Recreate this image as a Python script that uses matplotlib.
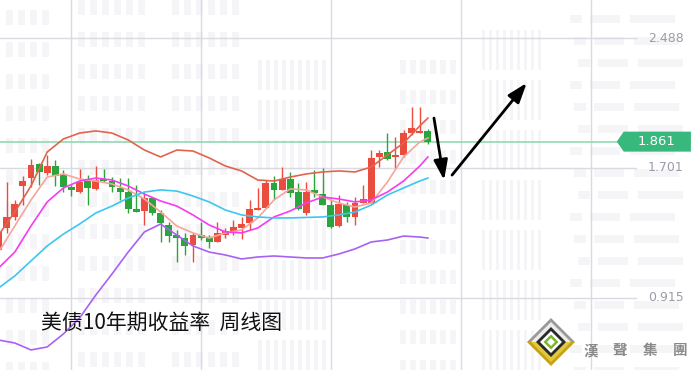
import matplotlib
matplotlib.use("Agg")
import matplotlib.pyplot as plt
from matplotlib.patches import Polygon, Rectangle
from matplotlib.transforms import blended_transform_factory
import numpy as np

plt.rcParams['font.family'] = ['Noto Sans CJK SC', 'DejaVu Sans']

# weekly candles, 10y treasury yield (%), oldest first
opens = [1.203, 1.337, 1.404, 1.592, 1.640, 1.725, 1.671, 1.713, 1.659, 1.586,
         1.555, 1.622, 1.574, 1.634, 1.622, 1.580, 1.555, 1.452, 1.440, 1.519,
         1.428, 1.355, 1.294, 1.276, 1.234, 1.294, 1.276, 1.252, 1.294, 1.319,
         1.337, 1.367, 1.446, 1.458, 1.610, 1.568, 1.634, 1.555, 1.428, 1.568,
         1.543, 1.476, 1.349, 1.476, 1.404, 1.489, 1.489, 1.768, 1.798, 1.768,
         1.780, 1.913, 1.913, 1.925]
highs = [1.325, 1.616, 1.507, 1.652, 1.756, 1.731, 1.780, 1.750, 1.689, 1.598,
         1.695, 1.659, 1.713, 1.695, 1.646, 1.640, 1.640, 1.598, 1.549, 1.525,
         1.446, 1.373, 1.325, 1.307, 1.307, 1.373, 1.294, 1.373, 1.337, 1.385,
         1.404, 1.507, 1.580, 1.628, 1.652, 1.707, 1.677, 1.610, 1.616, 1.689,
         1.701, 1.507, 1.537, 1.495, 1.525, 1.598, 1.810, 1.810, 1.913, 1.889,
         1.932, 2.071, 2.071, 1.938]
lows = [1.179, 1.307, 1.385, 1.476, 1.586, 1.598, 1.659, 1.592, 1.555, 1.531,
        1.549, 1.476, 1.568, 1.616, 1.555, 1.507, 1.428, 1.434, 1.355, 1.416,
        1.252, 1.252, 1.131, 1.173, 1.131, 1.264, 1.216, 1.252, 1.276, 1.294,
        1.270, 1.325, 1.446, 1.458, 1.513, 1.568, 1.525, 1.446, 1.416, 1.525,
        1.476, 1.337, 1.343, 1.373, 1.355, 1.489, 1.489, 1.707, 1.750, 1.701,
        1.768, 1.901, 1.913, 1.847]
closes = [1.313, 1.404, 1.483, 1.622, 1.719, 1.677, 1.713, 1.652, 1.586, 1.568,
          1.616, 1.580, 1.628, 1.622, 1.586, 1.555, 1.452, 1.434, 1.519, 1.428,
          1.367, 1.288, 1.276, 1.228, 1.294, 1.276, 1.252, 1.307, 1.319, 1.343,
          1.361, 1.452, 1.458, 1.610, 1.568, 1.634, 1.549, 1.452, 1.555, 1.549,
          1.476, 1.343, 1.483, 1.404, 1.489, 1.513, 1.762, 1.792, 1.756, 1.780,
          1.913, 1.944, 1.925, 1.861]

# indicator lines, read every second week
line_idx = list(range(0, 53, 2)) + [53]
boll_up = [1.294, 1.434, 1.592, 1.798, 1.877, 1.913, 1.926, 1.913, 1.871, 1.810,
           1.768, 1.810, 1.804, 1.762, 1.713, 1.683, 1.628, 1.622, 1.646, 1.665,
           1.677, 1.683, 1.677, 1.707, 1.780, 1.853, 1.956, 2.004]
ma5 = [1.191, 1.349, 1.507, 1.646, 1.665, 1.634, 1.622, 1.604, 1.568, 1.513,
       1.434, 1.349, 1.307, 1.276, 1.307, 1.325, 1.398, 1.507, 1.574, 1.568,
       1.525, 1.489, 1.464, 1.489, 1.616, 1.768, 1.859, 1.883]
ma10 = [1.094, 1.191, 1.349, 1.495, 1.580, 1.622, 1.640, 1.628, 1.592, 1.543,
        1.501, 1.470, 1.416, 1.355, 1.313, 1.307, 1.337, 1.404, 1.440, 1.489,
        1.525, 1.513, 1.495, 1.507, 1.555, 1.622, 1.713, 1.768]
ma20 = [0.973, 1.046, 1.137, 1.228, 1.300, 1.361, 1.428, 1.470, 1.519, 1.555,
        1.568, 1.561, 1.531, 1.495, 1.446, 1.416, 1.404, 1.398, 1.398, 1.401,
        1.404, 1.416, 1.434, 1.476, 1.537, 1.580, 1.622, 1.640]
boll_low = [0.657, 0.639, 0.597, 0.615, 0.694, 0.791, 0.930, 1.058, 1.191, 1.313,
            1.361, 1.294, 1.228, 1.191, 1.173, 1.149, 1.161, 1.167, 1.161, 1.155,
            1.155, 1.179, 1.210, 1.252, 1.264, 1.288, 1.282, 1.276]

price_ticks = [2.488, 1.701, 0.915]
last_price = 1.861
vgrid = [8.94, 24.99, 41.04, 57.09, 73.14]
title = "美债10年期收益率  周线图"
brand = ["漢", "聲", "集", "團"]

RED = "#ea4c3e"
GREEN = "#2aa53b"
GRID = "#dadae3"
WM = "#f5f5f8"

fig = plt.figure(figsize=(6.93, 3.70), dpi=100)

# faint building watermark (pixel coordinates)
bg = fig.add_axes([0, 0, 1, 1], zorder=0)
bg.set_xlim(0, 693)
bg.set_ylim(370, 0)
bg.axis("off")
clusters = [(6, 46, 10, 370, 7, 15, 12, 32),
            (78, 148, 0, 370, 7, 15, 12, 32),
            (172, 236, 0, 370, 7, 15, 12, 32),
            (258, 330, 60, 370, 4, 30, 8, 40),
            (400, 452, 60, 370, 6, 14, 10, 30),
            (482, 540, 30, 370, 3, 40, 7, 50)]
for x0, x1, y0, y1, w, h, dx, dy in clusters:
    for xx in np.arange(x0, x1, dx):
        for yy in np.arange(y0, y1, dy):
            bg.add_patch(Rectangle((xx, yy), w, h, color=WM, lw=0))
for yy in np.arange(15, 370, 22):
    for xx, ww in [(590, 30), (630, 45), (570, 12)]:
        bg.add_patch(Rectangle((xx + (yy % 3) * 4, yy), ww, 8, color=WM, lw=0))

ax = fig.add_axes([0, 0, 1, 1], zorder=1)
ax.patch.set_alpha(0)
ax.set_xlim(0.173, 85.73)
ax.set_ylim(0.4752, 2.7204)
ax.axis("off")

for v in vgrid:
    ax.axvline(v, color=GRID, lw=1, zorder=1)
for p in price_ticks:
    ax.axhline(p, xmin=0, xmax=0.918, color=GRID, lw=1, zorder=1)
    ax.text(0.935, p, f"{p:.3f}", transform=blended_transform_factory(ax.transAxes, ax.transData),
            ha="left", va="center", fontsize=9, color="#9c9ca8", family="DejaVu Sans")

idx = np.arange(len(opens))
o = np.array(opens)
c = np.array(closes)
cols = [RED if cc >= oo else GREEN for oo, cc in zip(o, c)]
ax.vlines(idx, lows, highs, colors=cols, lw=1, zorder=3)
ax.bar(idx, np.maximum(np.abs(c - o), 0.005), bottom=np.minimum(o, c), width=0.86,
       color=cols, zorder=4)

ax.plot(line_idx, boll_up, color="#e0644e", lw=1.2, zorder=5)
ax.plot(line_idx, ma5, color="#f7a49a", lw=1.2, zorder=5)
ax.plot(line_idx, ma10, color="#f53cf0", lw=1.2, zorder=5)
ax.plot(line_idx, ma20, color="#3cc6f0", lw=1.2, zorder=5)
ax.plot(line_idx, boll_low, color="#a862f2", lw=1.2, zorder=5)

# last price line and tag
tr = blended_transform_factory(ax.transAxes, ax.transData)
ax.axhline(last_price, xmin=0, xmax=0.890, color="#92d9b2", lw=1.2, zorder=2)
hh = 0.0607
ax.add_patch(Polygon([(0.890, last_price), (0.900, last_price + hh), (0.997, last_price + hh),
                      (0.997, last_price - hh), (0.900, last_price - hh)],
                     closed=True, transform=tr, color="#38b87c", lw=0, zorder=6))
ax.text(0.948, last_price, f"{last_price:.3f}", transform=tr, ha="center", va="center",
        fontsize=9.5, color="white", family="DejaVu Sans", zorder=7)

# arrows
aprops = dict(arrowstyle="-|>,head_length=1.0,head_width=0.35", lw=2, color="black",
              shrinkA=0, shrinkB=0, mutation_scale=12)
ax.annotate("", xy=(55.0, 1.628), xytext=(53.75, 2.004), arrowprops=aprops, zorder=8)
ax.annotate("", xy=(65.2, 2.217), xytext=(55.98, 1.658), arrowprops=aprops, zorder=8)

ax.text(0.059, 0.127, title, transform=ax.transAxes, ha="left", va="center",
        fontsize=15, color="#111111", zorder=8)

# logo (pixel coordinates)
lg = fig.add_axes([0, 0, 1, 1], zorder=3)
lg.patch.set_alpha(0)
lg.set_xlim(0, 693)
lg.set_ylim(370, 0)
lg.axis("off")
cx, cy = 551, 342


def diamond(r, top, bottom=None):
    bottom = bottom or top
    lg.add_patch(Polygon([(cx - r, cy), (cx, cy - r), (cx + r, cy)], color=top, lw=0))
    lg.add_patch(Polygon([(cx - r, cy), (cx, cy + r), (cx + r, cy)], color=bottom, lw=0))


diamond(24, "#9a9a9a", "#c6a214")
diamond(20, "#ececec", "#e2c83c")
diamond(15, "#2a2a2a")
diamond(11, "#ffffff")
diamond(7.5, "#7ab82a")
diamond(4, "#ffffff")
for ch, xx in zip(brand, [591, 620, 650, 680]):
    lg.text(xx, 350, ch, ha="center", va="center", fontsize=10.5, fontweight="bold",
            color="#8a8a8a", family=["Noto Sans CJK TC", "DejaVu Sans"])

fig.savefig("out.png", dpi=100)
